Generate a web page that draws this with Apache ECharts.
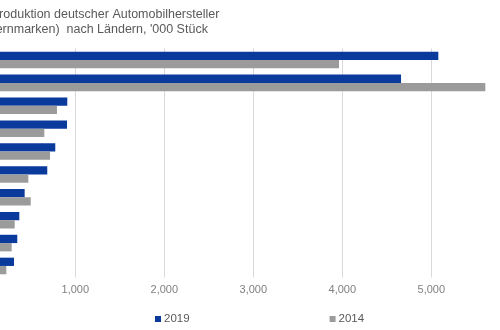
<!DOCTYPE html>
<html><head><meta charset="utf-8">
<script src="https://cdn.jsdelivr.net/npm/echarts@6/dist/echarts.min.js"></script>
<style>html,body{margin:0;padding:0;background:#fff;}#c{width:500px;height:330px;}</style>
</head><body><div id="c"></div>
<script>
var categories = ['China','Deutschland','Spanien','USA','Mexiko','Tschechien','Brasilien','Slowakei','Ungarn','Südafrika'];
var values2019 = [5079, 4660, 910, 907, 775, 685, 431, 371, 348, 311];
var values2014 = [3963, 5607, 794, 652, 716, 472, 499, 319, 285, 225];
var xTicks = [0, 1000, 2000, 3000, 4000, 5000, 6000];
var titleText = 'Pkw-Produktion deutscher Automobilhersteller\n(Konzernmarken)  nach Ländern, \'000 Stück';

var chart = echarts.init(document.getElementById('c'));
chart.setOption({
  animation: false,
  title: {
    text: titleText, left: -42, top: 2,
    textStyle: {fontFamily: 'Liberation Sans, Arial', fontSize: 12.5, fontWeight: 'normal', color: '#595959', lineHeight: 15}
  },
  legend: {
    data: ['2019', '2014'], left: 150, top: 308, itemGap: 140,
    itemWidth: 6, itemHeight: 6, icon: 'rect',
    textStyle: {fontFamily: 'Liberation Sans, Arial', fontSize: 11.5, color: '#595959', padding: [0,0,0,-2]}
  },
  grid: {left: -13.7, right: -20.3, top: 48.6, bottom: 52.6, containLabel: false, outerBoundsMode: 'none'},
  xAxis: {
    type: 'value', min: xTicks[0], max: xTicks[xTicks.length-1], interval: 1000,
    axisLine: {show: false}, axisTick: {show: false},
    splitLine: {lineStyle: {color: '#d9d9d9', width: 1}},
    axisLabel: {
      fontFamily: 'Liberation Sans, Arial', fontSize: 11, color: '#808080', margin: 7,
      formatter: function(v){ return v === 0 ? '' : v.toLocaleString('en-US'); }
    }
  },
  yAxis: {
    type: 'category', data: categories, inverse: true,
    axisLine: {show: false}, axisTick: {show: false}, axisLabel: {show: false}
  },
  series: [
    {name: '2019', type: 'bar', data: values2019, barWidth: 8.3, barGap: '0%', itemStyle: {color: '#0a3a9c'}},
    {name: '2014', type: 'bar', data: values2014, barWidth: 8.3, barGap: '0%', itemStyle: {color: '#9b9b9b'}}
  ]
});
</script></body></html>
